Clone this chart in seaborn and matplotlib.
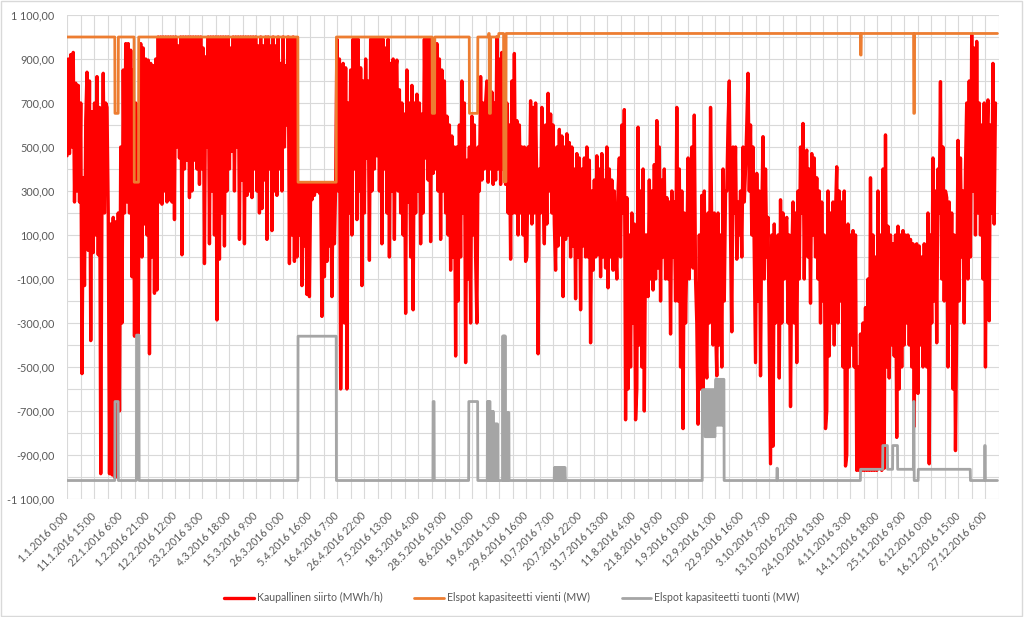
import numpy as np
import pandas as pd
import matplotlib
matplotlib.use("Agg")
import matplotlib.pyplot as plt
import matplotlib.ticker as mticker
import matplotlib.transforms as mtransforms
from matplotlib.patches import Rectangle
import seaborn as sns

# ---------------- data ----------------
HOURS = 8784
LABEL_STEP = 255

x_labels = [
    "1.1.2016 0:00", "11.1.2016 15:00", "22.1.2016 6:00", "1.2.2016 21:00",
    "12.2.2016 12:00", "23.2.2016 3:00", "4.3.2016 18:00", "15.3.2016 9:00",
    "26.3.2016 0:00", "5.4.2016 16:00", "16.4.2016 7:00", "26.4.2016 22:00",
    "7.5.2016 13:00", "18.5.2016 4:00", "28.5.2016 19:00", "8.6.2016 10:00",
    "19.6.2016 1:00", "29.6.2016 16:00", "10.7.2016 7:00", "20.7.2016 22:00",
    "31.7.2016 13:00", "11.8.2016 4:00", "21.8.2016 19:00", "1.9.2016 10:00",
    "12.9.2016 1:00", "22.9.2016 16:00", "3.10.2016 7:00", "13.10.2016 22:00",
    "24.10.2016 13:00", "4.11.2016 3:00", "14.11.2016 18:00", "25.11.2016 9:00",
    "6.12.2016 0:00", "16.12.2016 15:00", "27.12.2016 6:00",
]

# Kaupallinen siirto (MWh/h): successive highs/lows read across the year
siirto = [
    460, 900, 470, 920, 500, 930, 250, 790,
    300, 780, 250, 700, -530, 360, -130, 620,
    840, 30, 800, -380, 660, 20, 700, 100,
    820, 10, 680, -985, 300, 835, 200, 700,
    680, 200, -985, 150, -990, 180, -1000, 160,
    -1000, 200, -700, 500, -300, 850, 200, 970,
    250, 970, 200, 940, -90, 850, -360, 700,
    330, -350, 600, 970, 0, 950, 150, 900,
    100, 895, -440, 880, 0, 870, -165, 900,
    -150, 1000, 250, 1000, 240, 1000, 300, 1000,
    250, 1000, 260, 1000, 250, 1000, 170, 1000,
    500, 960, 450, 1000, 10, 1000, 400, 1000,
    440, 1000, 270, 1000, 300, 1000, 440, 1000,
    400, 1000, 330, 1000, 400, 950, -30, 910,
    500, 1000, 60, 1000, 300, 1000, 100, 1000,
    -286, 1000, -10, 1000, 200, 1000, 50, 1000,
    300, 1000, 400, 950, 480, 1000, 300, 1000,
    500, 1000, 80, 1000, 350, 1000, 60, 1000,
    280, 1000, 300, 1000, 270, 1000, 400, 1000,
    300, 960, 200, 1000, 220, 960, 350, 1000,
    80, 1000, 400, 960, 120, 1000, 300, 960,
    280, 1000, 400, 880, 300, 1000, 500, 870,
    600, 1000, -30, 990, 100, 1000, -20, 990,
    0, 335, 100, 330, -130, 330, 50, 330,
    -170, 330, -180, 330, 260, 330, 280, 330,
    300, 330, 290, 330, -270, 330, -90, 330,
    -20, 330, 50, 330, -180, 330, 60, 330,
    990, 300, 900, -600, 100, 880, -300, 860,
    -600, 700, 200, 850, 100, 990, 400, 990,
    170, 990, 300, 860, -130, 800, 200, 900,
    450, 800, -15, 990, 300, 990, 400, 990,
    460, 990, 300, 990, 60, 990, 400, 950,
    200, 990, 0, 880, 300, 900, 80, 850,
    895, 300, 760, 200, 700, 100, 650, -256,
    850, 250, 700, 0, 780, -240, 700, 200,
    740, 300, 700, 60, 650, 200, 990, 450,
    990, 350, 990, 70, 990, 380, 970, 400,
    970, 300, 900, 80, 850, 300, 800, 200,
    640, 100, 600, -60, 550, 0, 500, -450,
    500, -200, 600, 0, 800, 200, 700, -480,
    440, -100, 500, -300, 640, 100, 600, 0,
    -300, 500, 300, 820, 350, 700, 400, 700,
    800, 340, 700, 400, 750, 330, 700, 350,
    1000, 400, 900, 330, 930, 400, 700, 330,
    700, 200, 600, -10, 800, 200, 925, 200,
    620, 100, 600, 200, 500, 100, 500, -20,
    0, 500, 200, 710, 150, 680, 200, 700,
    300, -440, 400, 200, 680, 300, 60, 600,
    150, 744, 300, 650, 200, 600, 150, -60,
    500, 50, 580, 100, 550, -180, 500, 80,
    560, 100, 520, 0, 500, 50, 400, -190,
    470, 0, 450, -240, 400, 50, 450, 0,
    500, 0, 440, -390, 300, -60, 350, 0,
    460, 10, 400, -90, 470, 0, 350, -50,
    500, -140, 400, 0, 350, -60, 300, 50,
    -100, 300, 450, 0, 600, 200, 670, -740,
    270, -600, 100, -500, 200, -300, 150, -740,
    -600, 590, -400, 300, -500, 400, -700, 100,
    100, -180, 350, -100, 300, -150, 420, -100,
    620, -50, 500, -200, 350, 0, 400, -100,
    270, -100, 250, -350, 300, 0, 250, -200,
    680, -200, 400, -500, 300, -780, 200, -300,
    0, 450, -100, 300, 500, -50, 645, -100,
    -300, -760, 100, -600, 280, -700, 300, -400,
    -550, 200, -300, 680, 100, -400, 200, -300,
    -540, 200, -400, 100, -500, 400, -200, 300,
    300, 600, 800, 100, -340, 500, 200, 500,
    -10, 250, 100, 300, 0, 500, 250, 400,
    600, 835, 300, 600, 100, 500, 0, -480,
    380, -200, 300, -540, 200, 547, -100, 400,
    0, 180, -400, -940, 100, -860, 150, -300,
    -200, 100, -550, 260, -300, 200, -100, 150,
    180, -300, 100, -680, 0, 250, -300, 200,
    -480, 300, -100, 500, 200, 607, -100, 450,
    486, 0, 400, -210, 470, 100, 450, 0,
    360, -100, 300, -300, 250, -200, 100, -780,
    -700, 300, -450, 200, -300, 250, -400, 200,
    410, -300, 300, -200, 250, -500, 300, -950,
    -900, 150, -500, 100, -400, 120, -500, 100,
    -970, -500, -970, -350, -970, -300, -970, -230,
    -970, -100, -970, 360, -970, 100, -970, 0,
    -970, 300, -960, 100, -970, 400, -960, 555,
    -500, 140, -550, 100, -400, 60, -450, 100,
    -820, 140, -600, 100, -500, 120, -400, 100,
    -300, 100, -400, 80, -500, 60, -770, 50,
    60, -620, 50, -400, 0, -500, 60, -300,
    -500, 200, -940, 100, -300, 450, -200, 300,
    -390, 400, 200, 797, -100, 500, -200, 300,
    270, -500, 250, -300, 200, -600, 100, -880,
    -300, 530, -200, 450, 0, 300, -300, 400,
    700, -100, 800, 0, 1010, 300, 950, 100,
    980, 200, 700, 100, 600, -100, 700, -500,
    500, 714, -290, 600, 200, 880, 150, 700,
]

# Elspot kapasiteetti vienti (MW): hour where a new level starts, and the level
vienti_start = [0, 452, 484, 634, 676, 2180, 2542, 3447, 3471, 3798, 3877,
                3980, 3986, 3998, 4075, 4122, 4144, 7490, 7497, 7992, 8000]
vienti_level = [1000, 653, 1000, 340, 1000, 340, 1000, 653, 1000, 653, 1000,
                1016, 653, 1000, 1016, 342, 1016, 918, 1016, 653, 1016]

# Elspot kapasiteetti tuonti (MW): hour where a new level starts, and the level
tuonti_start = [
    0, 452, 484, 656, 680, 2180, 2542, 3455, 3466, 3792, 3877,
    3968, 3974, 3978, 3984, 3988, 3994, 3999, 4005, 4009, 4015, 4019, 4025,
    4031, 4037, 4041, 4047, 4051, 4057, 4061, 4065,
    4112, 4118, 4122, 4128, 4132, 4138, 4144, 4150, 4154, 4160, 4164, 4172,
    4600, 4608, 4612, 4620, 4624, 4632, 4636, 4644, 4648, 4656, 4660, 4668,
    4672, 4680, 4684, 4692, 4696, 4703,
    5997, 6003, 6007, 6013, 6017, 6023, 6027, 6033, 6037, 6043, 6047, 6053,
    6057, 6063, 6067, 6073, 6077, 6083, 6087, 6093, 6097, 6103, 6107, 6113,
    6117, 6123, 6129, 6133, 6139, 6143, 6149, 6153, 6159, 6163, 6169, 6173,
    6179, 6183, 6189, 6193, 6202,
    6701, 6706, 7490, 7700, 7745, 7794, 7840, 7990, 7996, 8035, 8527, 8662, 8668,
]
tuonti_level = [
    -1016, -657, -1016, -355, -1016, -360, -1016, -657, -1016, -657, -1016,
    -657, -1016, -657, -1016, -657, -1016, -702, -1016, -702, -1016, -702, -1016,
    -759, -1016, -759, -1016, -759, -1016, -759, -1016,
    -359, -1016, -359, -1016, -359, -1016, -707, -1016, -707, -1016, -707, -1016,
    -957, -1016, -957, -1016, -957, -1016, -957, -1016, -957, -1016, -957, -1016,
    -957, -1016, -957, -1016, -957, -1016,
    -604, -771, -604, -771, -604, -817, -604, -817, -604, -817, -604, -817,
    -604, -817, -604, -817, -604, -817, -604, -817, -604, -817, -604, -817,
    -604, -556, -764, -556, -764, -556, -764, -556, -764, -556, -764, -556,
    -764, -556, -764, -556, -1016,
    -960, -1016, -965, -857, -965, -857, -965, -657, -1016, -965, -1016, -857, -1016,
]

series_names = ["Kaupallinen siirto (MWh/h)",
                "Elspot kapasiteetti vienti (MW)",
                "Elspot kapasiteetti tuonti (MW)"]

# ---------------- build frames ----------------
def expand_runs(starts, levels):
    durations = np.diff(list(starts) + [HOURS])
    return np.repeat(levels, durations)

hours = np.arange(HOURS)
df_vienti = pd.DataFrame({"hour": hours, "value": expand_runs(vienti_start, vienti_level)})
df_tuonti = pd.DataFrame({"hour": hours, "value": expand_runs(tuonti_start, tuonti_level)})
df_siirto = pd.DataFrame({"hour": np.linspace(0, HOURS - 20, len(siirto)), "value": siirto})

# ---------------- style ----------------
sns.set_theme(style="white")
plt.rcParams["font.family"] = ["Lato", "DejaVu Sans"]
TEXT = "#595959"
GRID = "#D9D9D9"

fig = plt.figure(figsize=(10.24, 6.17), dpi=100)
ax = fig.add_axes([67 / 1024, 1 - 499 / 617, (999 - 67) / 1024, (499 - 15) / 617])

sns.lineplot(data=df_siirto, x="hour", y="value", ax=ax, color="#FF0000",
             linewidth=2.4, estimator=None, sort=False, label=series_names[0], zorder=3)
sns.lineplot(data=df_vienti, x="hour", y="value", ax=ax, color="#ED7D31",
             linewidth=2.0, estimator=None, sort=False, label=series_names[1], zorder=4)
sns.lineplot(data=df_tuonti, x="hour", y="value", ax=ax, color="#A5A5A5",
             linewidth=2.0, estimator=None, sort=False, label=series_names[2], zorder=5)

ax.set_xlim(0, HOURS)
ax.set_ylim(-1100, 1100)

label_pos = np.arange(len(x_labels)) * LABEL_STEP
ax.set_xticks(label_pos)
ax.set_xticks(label_pos + LABEL_STEP / 2, minor=True)
ax.set_xticklabels(x_labels, rotation=45, ha="right", va="center",
                   rotation_mode="anchor", fontsize=7.6, color=TEXT)
offset = mtransforms.ScaledTranslation(4 / 100, 0, fig.dpi_scale_trans)
for lab in ax.get_xticklabels():
    lab.set_transform(lab.get_transform() + offset)

ax.set_yticks(np.arange(-1100, 1101, 200))
ax.set_yticks(np.arange(-1000, 1001, 200), minor=True)


def fi_fmt(v, pos):
    s = f"{abs(v):,.2f}".replace(",", " ").replace(".", ",")
    return ("-" if v < 0 else "") + s


ax.yaxis.set_major_formatter(mticker.FuncFormatter(fi_fmt))
ax.tick_params(axis="y", labelsize=7.8, labelcolor=TEXT, length=0, pad=9)
ax.tick_params(axis="x", which="both", length=0, pad=11)
ax.tick_params(axis="y", which="minor", length=0)

ax.grid(True, which="both", color=GRID, linewidth=0.8, zorder=0)
ax.set_axisbelow(True)
for sp in ax.spines.values():
    sp.set_visible(False)
ax.set_xlabel("")
ax.set_ylabel("")

handles, labels = ax.get_legend_handles_labels()
ax.get_legend().remove()
leg = fig.legend(handles, labels, loc="center", bbox_to_anchor=(0.5, 0.031),
                 ncol=3, frameon=False, fontsize=7.6, handlelength=2.8,
                 columnspacing=3.0, handletextpad=0.3)
for t in leg.get_texts():
    t.set_color(TEXT)

fig.patches.append(Rectangle((0.001, 0.001), 0.997, 0.997, transform=fig.transFigure,
                             fill=False, edgecolor=GRID, linewidth=1.0))

fig.savefig("out.png", dpi=100, facecolor="white")
